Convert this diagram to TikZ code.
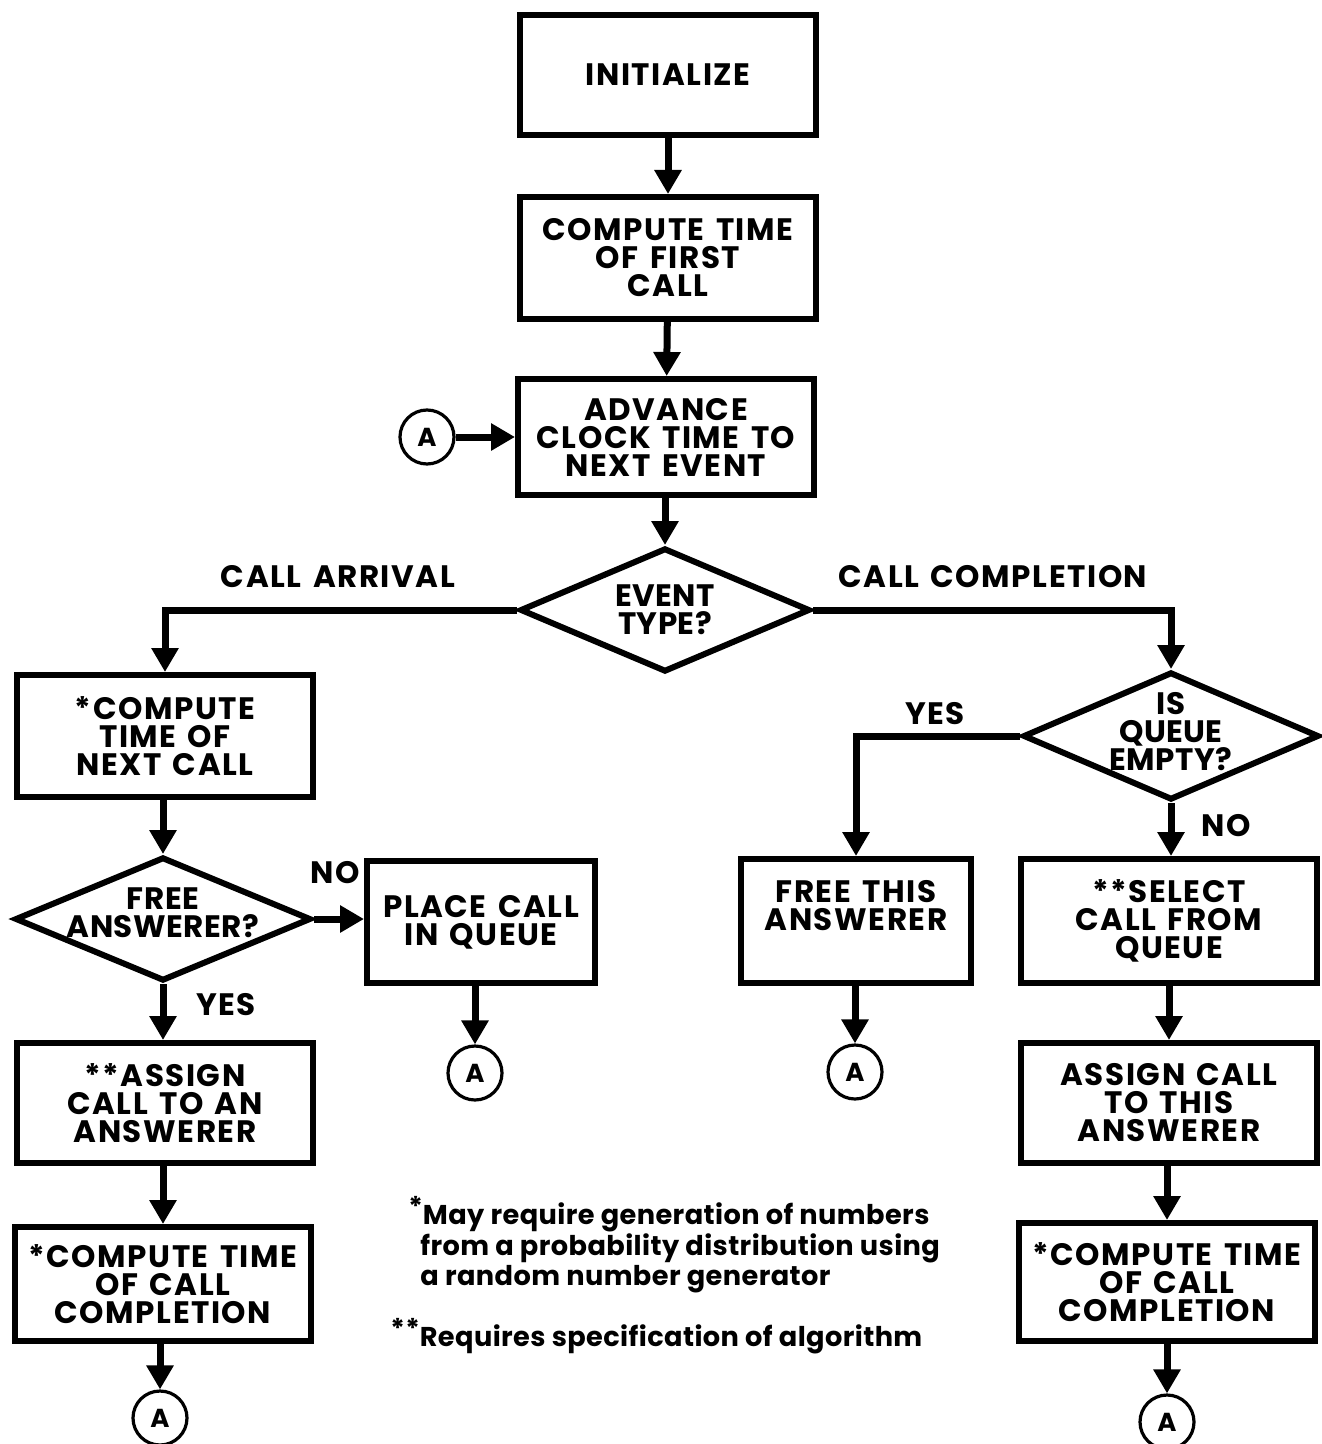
\documentclass[tikz,border=0pt]{standalone}
\usepackage{fontspec}
\setmainfont{Poppins}[LetterSpace=5, WordSpace=1.4]
\newfontfamily\footfam{Poppins}[LetterSpace=1.5, WordSpace=1.3]
\newfontfamily\diafam{Poppins}[LetterSpace=1.5]
\usetikzlibrary{shapes.geometric,arrows.meta}
\newcommand\boxfont{\fontsize{15.5}{14}\selectfont\bfseries}
\newcommand\diafont{\diafam\fontsize{15.5}{14}\selectfont\bfseries}
\newcommand\footfont{\footfam\fontsize{13.6}{13.5}\selectfont\bfseries}
\tikzset{
  x=0.5pt, y=-0.5pt,
  box/.style={draw, line width=3pt, rectangle, minimum width=148pt, minimum height=60pt,
    align=center, font=\boxfont, inner sep=2pt},
  dia/.style={draw, line width=3pt, diamond, inner sep=0pt},
  diatext/.style={align=center, font=\diafont},
  conn/.style={draw, line width=3.5pt, -{Triangle[length=12pt,width=13pt]}},
  circA/.style={draw, circle, line width=1.6pt, minimum size=27pt, inner sep=0pt,
    font=\fontsize{13}{13}\selectfont\bfseries},
  lab/.style={font=\boxfont, inner sep=0pt},
  foot/.style={font=\footfont, align=left, inner sep=0pt},
}
\begin{document}
\begin{tikzpicture}
\useasboundingbox[fill=white] (0,0) rectangle (1321,1444);

% main column
\node[box, minimum height=60pt] (init) at (668,75) {INITIALIZE};
\node[box, minimum height=61pt] (first) at (668,258) {COMPUTE TIME\\OF FIRST\\CALL};
\node[box, minimum height=58pt] (adv) at (666,437) {ADVANCE\\CLOCK TIME TO\\NEXT EVENT};
\node[circA] (a0) at (427,437) {A};
\node[dia, minimum width=145pt, minimum height=62pt,
      label={[diatext]center:EVENT\\TYPE?}] (ev) at (665,610) {};

% left branch
\node[box, minimum height=61pt] (cnext) at (165,736) {*COMPUTE\\TIME OF\\NEXT CALL};
\node[dia, minimum width=148pt, minimum height=62pt,
      label={[diatext, yshift=3pt]center:FREE\\ANSWERER?}] (free) at (163,919) {};
\node[box, minimum width=114pt, minimum height=61pt] (place) at (481,922) {PLACE CALL\\IN QUEUE};
\node[circA] (a1) at (475,1073) {A};
\node[box, minimum height=60pt] (assign) at (165,1103) {**ASSIGN\\CALL TO AN\\ANSWERER};
\node[box, minimum height=57pt] (compL) at (163,1284) {*COMPUTE TIME\\OF CALL\\COMPLETION};
\node[circA] (a2) at (160,1418) {A};

% right branch
\node[dia, minimum width=148pt, minimum height=64pt,
      label={[diatext, yshift=2pt]center:IS\\QUEUE\\EMPTY?}] (qe) at (1171,736) {};
\node[box, minimum width=115pt, minimum height=62pt] (fthis) at (856,921) {FREE THIS\\ANSWERER\\[2pt]};
\node[circA] (a3) at (855,1072) {A};
\node[box, minimum height=62pt] (sel) at (1169,921) {**SELECT\\CALL FROM\\QUEUE};
\node[box, minimum height=60pt] (athis) at (1169,1103) {ASSIGN CALL\\TO THIS\\ANSWERER};
\node[box, minimum height=59pt] (compR) at (1167,1282) {*COMPUTE TIME\\OF CALL\\COMPLETION};
\node[circA] (a4) at (1167,1422) {A};

% connectors
\draw[conn] (init) -- (first);
\draw[conn] (first) -- (adv);
\draw[conn] (a0) -- (adv);
\draw[conn] (adv.south -| ev.north) -- (ev.north);
\draw[conn] (ev.west) -| (cnext.north);
\draw[conn] (ev.east) -| (qe.north);
\draw[conn] (cnext.south -| free.north) -- (free.north);
\draw[conn] (free.east) -- (free.east -| place.west);
\draw[conn] (free.south) -- (free.south |- assign.north);
\draw[conn] (place.south -| a1) -- (a1);
\draw[conn] (assign.south -| compL.north) -- (compL.north);
\draw[conn] (compL.south -| a2) -- (a2);
\draw[conn] (qe.west) -| (fthis.north);
\draw[conn] (qe.south) -- (qe.south |- sel.north);
\draw[conn] (fthis.south -| a3) -- (a3);
\draw[conn] (sel.south) -- (athis.north);
\draw[conn] (athis.south -| compR.north) -- (compR.north);
\draw[conn] (compR.south -| a4) -- (a4);

% labels
\node[lab] (lca) at (338,577) {CALL ARRIVAL};
\node[lab] (lcc) at (993,577) {CALL COMPLETION};
\node[lab] (lyes1) at (935,714) {YES};
\node[lab] (lno1) at (1226,826) {NO};
\node[lab] (lno2) at (335,873) {NO};
\node[lab] (lyes2) at (226,1005) {YES};

% footnotes
\node[foot, anchor=north west] (fn1) at (408,1196) {\raisebox{4pt}{*}May require generation of numbers\\\hspace*{6pt}from a probability distribution using\\\hspace*{6pt}a random number generator};
\node[foot, anchor=north west] (fn2) at (390,1318) {\raisebox{4pt}{**}Requires specification of algorithm};
\end{tikzpicture}
\end{document}
